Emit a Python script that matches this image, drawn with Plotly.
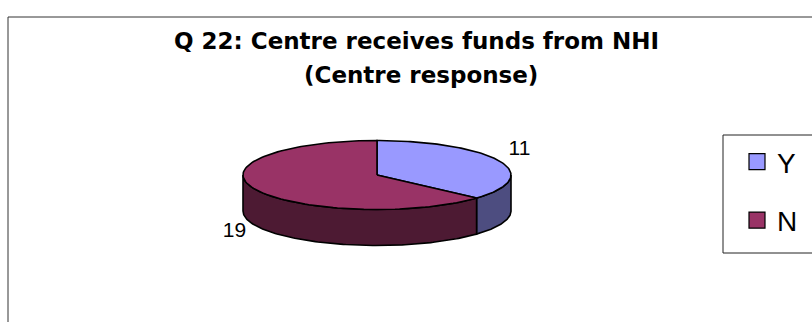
import numpy as np
import plotly.graph_objects as go

# Survey answers
categories = ["Y", "N"]
counts = [11, 19]
top_colors = ["#9999FF", "#993366"]
side_colors = ["#4D4D80", "#4D1A33"]

title_line1 = "Q 22: Centre receives funds from NHI"
title_line2 = "(Centre response)"

W, H = 812, 322

# 3-D pie geometry (pixel units of the full-page axes)
CX, CY = 377.0, 175.0
RX, RY = 134.0, 34.5
DEPTH = 36.0
LABEL_GAP = 22.0
START_DEG = 90.0


def ell(theta_deg, drop=0.0):
    t = np.radians(theta_deg)
    return CX + RX * np.cos(t), CY - RY * np.sin(t) + drop


def arc(a_from, a_to, drop=0.0, n=120):
    th = np.linspace(a_from, a_to, n)
    xs, ys = ell(th, drop)
    return list(xs), list(ys)


total = float(sum(counts))
bounds = []
a = START_DEG
for v in counts:
    b = a - 360.0 * v / total
    bounds.append((a, b))
    a = b

fig = go.Figure()

# front walls (visible half: theta in [-180, 0])
for (a0, a1), col in zip(bounds, side_colors):
    hi = min(a0, 0.0)
    lo = max(a1, -180.0)
    if hi <= lo:
        continue
    tx, ty = arc(hi, lo)
    bx, by = arc(lo, hi, DEPTH)
    fig.add_trace(go.Scatter(
        x=tx + bx + [tx[0]], y=ty + by + [ty[0]],
        mode="lines", fill="toself", fillcolor=col,
        line=dict(color="black", width=1.6),
        hoverinfo="skip", showlegend=False))

# top faces
for (a0, a1), col, name, v in zip(bounds, top_colors, categories, counts):
    ax, ay = arc(a0, a1)
    fig.add_trace(go.Scatter(
        x=[CX] + ax + [CX], y=[CY] + ay + [CY],
        mode="lines", fill="toself", fillcolor=col,
        line=dict(color="black", width=1.6),
        name=name, text=f"{name}: {v}", hoverinfo="text",
        showlegend=False))

# value labels just outside each slice's mid angle
lx, ly, lt = [], [], []
for (a0, a1), v in zip(bounds, counts):
    m = (a0 + a1) / 2.0
    drop = DEPTH if np.sin(np.radians(m)) < 0 else 0.0
    px, py = ell(m, drop)
    ux, uy = np.cos(np.radians(m)), -np.sin(np.radians(m))
    lx.append(px + LABEL_GAP * ux)
    ly.append(py + LABEL_GAP * uy - 2)
    lt.append(str(v))
fig.add_trace(go.Scatter(
    x=lx, y=ly, text=lt, mode="text",
    textfont=dict(family="Liberation Sans, Arial", size=21, color="black"),
    hoverinfo="skip", showlegend=False))

# legend entries
for name, col in zip(categories, top_colors):
    fig.add_trace(go.Scatter(
        x=[None], y=[None], mode="markers", name=name, legendgroup=name,
        marker=dict(symbol="square", size=17, color=col,
                    line=dict(color="black", width=1.2))))

fig.update_layout(
    width=W, height=H,
    margin=dict(l=0, r=0, t=0, b=0, autoexpand=False),
    paper_bgcolor="white", plot_bgcolor="white",
    xaxis=dict(range=[0, W], visible=False, fixedrange=True),
    yaxis=dict(range=[H, 0], visible=False, fixedrange=True),
    showlegend=True,
    legend=dict(
        x=737 / W, y=1 - 137 / H, xanchor="left", yanchor="top",
        borderwidth=0, bgcolor="rgba(0,0,0,0)",
        font=dict(family="Liberation Sans, Arial", size=28, color="black"),
        traceorder="grouped", tracegroupgap=19),
    shapes=[
        dict(type="rect", xref="paper", yref="paper",
             x0=8 / W, x1=1.05, y0=-0.05, y1=1 - 17 / H,
             line=dict(color="#333333", width=1), layer="below"),
        # legend frame, running past the right edge
        dict(type="rect", xref="paper", yref="paper",
             x0=723 / W, x1=1.05, y0=1 - 253 / H, y1=1 - 135 / H,
             line=dict(color="#222222", width=1), fillcolor="white",
             layer="below"),
    ],
    annotations=[
        dict(text=f"<b>{title_line1}</b>", x=416 / W, y=1 - 41 / H,
             xref="paper", yref="paper", showarrow=False,
             xanchor="center", yanchor="middle",
             font=dict(family="DejaVu Sans", size=23, color="black")),
        dict(text=f"<b>{title_line2}</b>", x=421 / W, y=1 - 75 / H,
             xref="paper", yref="paper", showarrow=False,
             xanchor="center", yanchor="middle",
             font=dict(family="DejaVu Sans", size=23, color="black")),
    ],
)

fig.write_html("out.html")
